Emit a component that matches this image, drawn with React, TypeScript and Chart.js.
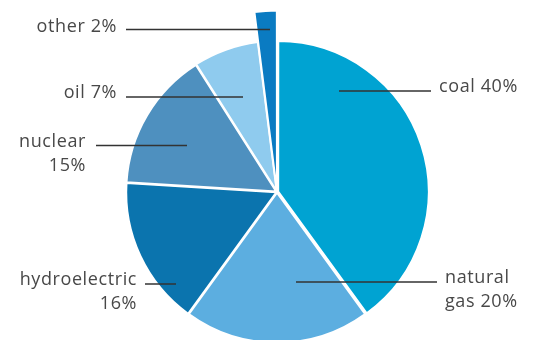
import { useEffect, useRef } from "react";
import { Chart, registerables } from "chart.js";

Chart.register(...registerables);

// ---- data ----
const categories = ["coal", "natural gas", "hydroelectric", "nuclear", "oil", "other"];
const shares = [40, 20, 16, 15, 7, 2];
const labelLines = [
  ["coal 40%"],
  ["natural", "gas 20%"],
  ["hydroelectric", "16%"],
  ["nuclear", "15%"],
  ["oil 7%"],
  ["other 2%"],
];

// ---- styles ----
const sliceColors = ["#00a3d2", "#5caee0", "#0b74ae", "#4e90bf", "#8fcbee", "#0a7bc2"];
const sliceOffsets = [5, 3, 3, 3, 3, 3];
const sliceExtraRadius = [0, 0, 0, 0, 0, 30];

// annotation layout, relative to the pie centre (px)
const labelLayout = [
  { align: "left", tx: 162, ty: -100, lx1: 62, lx2: 154, ly: -101 },
  { align: "left", tx: 168, ty: 91, lx1: 19, lx2: 160, ly: 90 },
  { align: "right", tx: -140, ty: 93, lx1: -132, lx2: -101, ly: 92 },
  { align: "right", tx: -191, ty: -45.5, lx1: -181, lx2: -90, ly: -46.5 },
  { align: "right", tx: -160, ty: -94, lx1: -151, lx2: -34, ly: -95 },
  { align: "right", tx: -160, ty: -160, lx1: -151, lx2: -7, ly: -162.5 },
];

const extendPlugin = {
  id: "extendSlices",
  afterDatasetsUpdate(chart: any) {
    const meta = chart.getDatasetMeta(0);
    meta.data.forEach((el: any, i: number) => {
      if (sliceExtraRadius[i]) el.outerRadius = el.outerRadius + sliceExtraRadius[i];
    });
  },
};

const leaderPlugin = {
  id: "leaderLabels",
  afterDraw(chart: any) {
    const meta = chart.getDatasetMeta(0);
    const arc = meta.data[0];
    if (!arc) return;
    const cx = arc.x;
    const cy = arc.y;
    const ctx = chart.ctx as CanvasRenderingContext2D;
    ctx.save();
    ctx.strokeStyle = "#333333";
    ctx.lineWidth = 1.5;
    ctx.font = "18px 'Open Sans'";
    (ctx as any).letterSpacing = "0.6px";
    ctx.fillStyle = "#484848";
    ctx.textBaseline = "alphabetic";
    labelLayout.forEach((l, i) => {
      ctx.beginPath();
      ctx.moveTo(cx + l.lx1, cy + l.ly);
      ctx.lineTo(cx + l.lx2, cy + l.ly);
      ctx.stroke();
      ctx.textAlign = l.align as CanvasTextAlign;
      labelLines[i].forEach((t, j) => {
        ctx.fillText(t, cx + l.tx, cy + l.ty + j * 24);
      });
    });
    ctx.restore();
  },
};

export default function App() {
  const ref = useRef<HTMLCanvasElement | null>(null);
  useEffect(() => {
    document.body.style.margin = "0";
    document.body.style.background = "#ffffff";
    const chart = new Chart(ref.current as HTMLCanvasElement, {
      type: "pie",
      data: {
        labels: categories,
        datasets: [
          {
            data: shares,
            backgroundColor: sliceColors,
            borderColor: "#ffffff",
            borderWidth: 2,
            offset: sliceOffsets,
          },
        ],
      },
      options: {
        animation: false,
        responsive: false,
        radius: 150,
        layout: { padding: { left: 16, right: 0, top: 0, bottom: 0 } },
        plugins: { legend: { display: false }, tooltip: { enabled: false } },
      } as any,
      plugins: [extendPlugin, leaderPlugin],
    });
    return () => chart.destroy();
  }, []);
  return (
    <div style={{ position: "fixed", left: 0, top: 0, width: 538, height: 384 }}>
      <canvas ref={ref} width={538} height={384} style={{ width: 538, height: 384 }} />
    </div>
  );
}
